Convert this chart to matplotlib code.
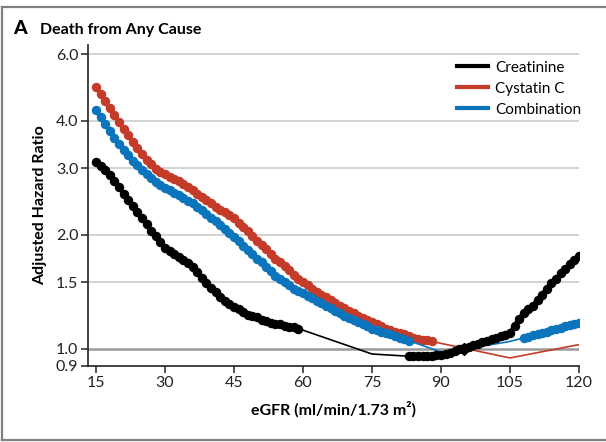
import matplotlib
matplotlib.use("Agg")
import matplotlib.pyplot as plt
from matplotlib.lines import Line2D

plt.rcParams['font.family'] = ['Lato', 'DejaVu Sans']

# eGFR grid and hazard ratios
creat_egfr_a = list(range(15, 60))
creat_hr_a = [3.11, 3.04, 2.96, 2.87, 2.77, 2.67, 2.57, 2.47, 2.38, 2.29,
              2.21, 2.13, 2.05, 1.98, 1.91, 1.85, 1.81, 1.78, 1.75, 1.71,
              1.68, 1.64, 1.59, 1.54, 1.49, 1.45, 1.41, 1.37, 1.34, 1.31,
              1.29, 1.27, 1.25, 1.23, 1.22, 1.21, 1.19, 1.18, 1.17, 1.16,
              1.16, 1.15, 1.14, 1.14, 1.13]
creat_egfr_thin = [59, 75, 83]
creat_hr_thin = [1.13, 0.968, 0.955]
creat_egfr_b = list(range(83, 121))
creat_hr_b = [0.955, 0.955, 0.955, 0.955, 0.956, 0.958, 0.960, 0.962, 0.968, 0.976,
              0.985, 0.995, 1.004, 1.013, 1.022, 1.031, 1.040, 1.049, 1.058, 1.067,
              1.077, 1.088, 1.100, 1.150, 1.200, 1.240, 1.270, 1.300, 1.345, 1.390,
              1.440, 1.490, 1.530, 1.580, 1.620, 1.670, 1.710, 1.760]

cys_egfr_a = list(range(15, 89))
cys_hr_a = [4.92, 4.71, 4.51, 4.32, 4.14, 3.97, 3.81, 3.66, 3.52, 3.39,
            3.27, 3.16, 3.07, 2.99, 2.93, 2.89, 2.85, 2.81, 2.77, 2.73,
            2.68, 2.63, 2.57, 2.51, 2.47, 2.42, 2.37, 2.33, 2.29, 2.25,
            2.21, 2.15, 2.09, 2.04, 1.98, 1.93, 1.88, 1.83, 1.78, 1.73,
            1.69, 1.65, 1.61, 1.57, 1.53, 1.50, 1.47, 1.44, 1.41, 1.39,
            1.37, 1.345, 1.32, 1.30, 1.28, 1.26, 1.24, 1.22, 1.205, 1.19,
            1.175, 1.16, 1.145, 1.13, 1.12, 1.11, 1.10, 1.09, 1.08, 1.07,
            1.063, 1.057, 1.051, 1.045]
cys_egfr_thin = [88, 105, 120]
cys_hr_thin = [1.045, 0.945, 1.025]

comb_egfr_a = list(range(15, 84))
comb_hr_a = [4.27, 4.09, 3.92, 3.76, 3.61, 3.47, 3.35, 3.24, 3.14, 3.05,
             2.97, 2.89, 2.82, 2.75, 2.70, 2.66, 2.62, 2.58, 2.54, 2.50,
             2.46, 2.42, 2.37, 2.32, 2.27, 2.22, 2.17, 2.12, 2.07, 2.02,
             1.97, 1.92, 1.87, 1.82, 1.78, 1.73, 1.69, 1.64, 1.60, 1.56,
             1.53, 1.50, 1.47, 1.44, 1.42, 1.40, 1.38, 1.36, 1.34, 1.32,
             1.30, 1.28, 1.26, 1.24, 1.22, 1.205, 1.19, 1.175, 1.16, 1.145,
             1.13, 1.12, 1.11, 1.10, 1.09, 1.08, 1.07, 1.06, 1.05]
comb_egfr_thin = [83, 90, 95, 101, 105, 108]
comb_hr_thin = [1.05, 0.98, 1.00, 1.025, 1.045, 1.068]
comb_egfr_b = list(range(108, 121))
comb_hr_b = [1.068, 1.075, 1.085, 1.093, 1.10, 1.11, 1.12, 1.128, 1.136,
             1.145, 1.152, 1.16, 1.168]

ref_egfr = 95
ref_hr = 1.0

series_names = ['Creatinine', 'Cystatin C', 'Combination']
colors = ['#000000', '#c43b2a', '#0a74bd']

y_ticks = [0.9, 1.0, 1.5, 2.0, 3.0, 4.0, 6.0]
x_ticks = [15, 30, 45, 60, 75, 90, 105, 120]

fig = plt.figure(figsize=(6.06, 4.42), dpi=100)
ax = fig.add_axes([0.1452, 0.172, 0.8102, 0.726])

thick = dict(lw=3.2, marker='o', ms=5.8, solid_capstyle='round')
ax.plot(cys_egfr_a, cys_hr_a, color=colors[1], zorder=3, **thick)
ax.plot(cys_egfr_thin, cys_hr_thin, color=colors[1], lw=1.2, zorder=3)
ax.plot(comb_egfr_a, comb_hr_a, color=colors[2], zorder=4, **thick)
ax.plot(comb_egfr_thin, comb_hr_thin, color=colors[2], lw=1.2, zorder=4)
ax.plot(comb_egfr_b, comb_hr_b, color=colors[2], zorder=4, **thick)
ax.plot(creat_egfr_a, creat_hr_a, color=colors[0], zorder=5, **thick)
ax.plot(creat_egfr_thin, creat_hr_thin, color=colors[0], lw=1.2, zorder=5)
ax.plot(creat_egfr_b, creat_hr_b, color=colors[0], zorder=5, **thick)
ax.plot([ref_egfr], [ref_hr], marker='D', ms=6.5, color=colors[0], zorder=6)

ax.set_yscale('log')
ax.set_ylim(0.9, 6.34)
ax.set_xlim(13.26, 120)
ax.set_yticks(y_ticks)
ax.set_yticklabels([f'{t:.1f}' for t in y_ticks])
ax.yaxis.set_minor_locator(matplotlib.ticker.NullLocator())
ax.set_xticks(x_ticks)

for t in y_ticks[2:]:
    ax.axhline(t, color='#cccccc', lw=1.2, zorder=1)
ax.axhline(1.0, color='#9a9a9a', lw=1.8, zorder=1)

for s in ['top', 'right']:
    ax.spines[s].set_visible(False)
for s in ['left', 'bottom']:
    ax.spines[s].set_linewidth(1.2)
    ax.spines[s].set_color('#222222')
ax.tick_params(axis='both', length=5, width=1.1, color='#222222',
               labelsize=11.5, labelcolor='#222222', pad=2)

ax.set_xlabel('eGFR (ml/min/1.73 m²)', fontsize=11.5, fontweight='bold', labelpad=8)
ax.set_ylabel('Adjusted Hazard Ratio', fontsize=11.5, fontweight='bold', labelpad=6)

handles = [Line2D([], [], color=c, lw=3) for c in colors]
ax.legend(handles, series_names, loc='upper left', bbox_to_anchor=(0.736, 0.975),
          frameon=False, fontsize=11, handlelength=2.0, handletextpad=0.5,
          labelspacing=0.46, borderpad=0)

fig.text(0.021, 0.924, 'A', fontsize=14, fontweight='black', va='baseline')
fig.text(0.066, 0.924, 'Death from Any Cause', fontsize=11.5, fontweight='bold', va='baseline')

# grey frame around the panel
frame = dict(color='#808080', lw=1.6, transform=fig.transFigure)
fig.add_artist(Line2D([0.004, 1.0], [0.985, 0.985], **frame))
fig.add_artist(Line2D([0.004, 0.004], [0.005, 0.985], **frame))
fig.add_artist(Line2D([0.004, 1.0], [0.005, 0.005], **frame))

fig.savefig('out.png', dpi=100)
